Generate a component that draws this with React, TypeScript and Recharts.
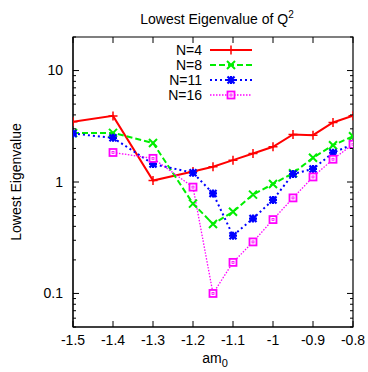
import { LineChart, Line, XAxis, YAxis, Legend, ReferenceArea } from "recharts";

const FONT = '"Liberation Sans", Arial, Helvetica, sans-serif';

// bare mass values on the x axis
const amValues = [-1.5, -1.4, -1.3, -1.2, -1.15, -1.1, -1.05, -1.0, -0.95, -0.9, -0.85, -0.8];

// lowest eigenvalue of Q^2 per lattice size
const n4 = [3.47, 3.92, 1.03, 1.24, 1.37, 1.57, 1.8, 2.07, 2.67, 2.63, 3.42, 3.93];
const n8 = [2.75, 2.76, 2.24, 0.64, 0.42, 0.54, 0.77, 0.96, 1.2, 1.65, 2.14, 2.57];
const n11 = [2.72, 2.49, 1.45, 1.21, 0.79, 0.33, 0.47, 0.69, 1.18, 1.31, 1.83, 2.18];
const n16 = [null, 1.84, 1.63, 0.9, 0.1, 0.19, 0.29, 0.46, 0.72, 1.11, 1.6, 2.18];

const xDomain = [-1.5, -0.8];
const yDomain = [0.05, 20];
const xTicks = [-1.5, -1.4, -1.3, -1.2, -1.1, -1, -0.9, -0.8];
const yTicks = [
  0.05, 0.06, 0.07, 0.08, 0.09, 0.1, 0.2, 0.3, 0.4, 0.5, 0.6, 0.7, 0.8, 0.9,
  1, 2, 3, 4, 5, 6, 7, 8, 9, 10, 20,
];
const yMajor = [0.1, 1, 10];

const series = [
  { key: "n4", name: "N=4", color: "#ff0000", dash: undefined, width: 2, marker: "plus" },
  { key: "n8", name: "N=8", color: "#00ee00", dash: "6 3", width: 2, marker: "cross" },
  { key: "n11", name: "N=11", color: "#0000ff", dash: "2 3", width: 2, marker: "star" },
  { key: "n16", name: "N=16", color: "#ff00ff", dash: "1.5 1.5", width: 1.3, marker: "square" },
];

const data = amValues.map((am, i) => ({
  am,
  n4: n4[i],
  n8: n8[i],
  n11: n11[i],
  n16: n16[i],
}));

// chart frame
const W = 368;
const H = 372;
const M = { top: 37, right: 15, bottom: 0, left: 0 };
const Y_AXIS_W = 73;
const X_AXIS_H = 45;
const PLOT = {
  left: M.left + Y_AXIS_W,
  right: W - M.right,
  top: M.top,
  bottom: H - M.bottom - X_AXIS_H,
};

const Marker = ({ cx, cy, color, kind }: any) => {
  if (cx == null || cy == null || isNaN(cy)) return <g />;
  if (kind === "plus")
    return <path d={`M${cx - 4.5},${cy}h9M${cx},${cy - 4.5}v9`} stroke={color} strokeWidth={1.5} fill="none" />;
  if (kind === "cross")
    return <path d={`M${cx - 4},${cy - 4}l8,8M${cx - 4},${cy + 4}l8,-8`} stroke={color} strokeWidth={2} fill="none" />;
  if (kind === "star")
    return (
      <path
        d={`M${cx - 4},${cy}h8M${cx},${cy - 4}v8M${cx - 3.5},${cy - 3.5}l7,7M${cx - 3.5},${cy + 3.5}l7,-7`}
        stroke={color}
        strokeWidth={2.2}
        fill="none"
      />
    );
  return (
    <g>
      <rect x={cx - 3.5} y={cy - 3.5} width={7} height={7} stroke={color} strokeWidth={1.8} fill="#fff" />
      <rect x={cx - 1} y={cy - 1} width={2} height={2} stroke={color} strokeWidth={0.8} fill="none" />
    </g>
  );
};

// gnuplot style: ticks point inwards, mirrored on the opposite border
const BottomTick = ({ x, payload }: any) => (
  <g>
    <line x1={x} x2={x} y1={PLOT.bottom} y2={PLOT.bottom - 6} stroke="#000" />
    <line x1={x} x2={x} y1={PLOT.top} y2={PLOT.top + 6} stroke="#000" />
    <text x={x} y={PLOT.bottom + 18} textAnchor="middle" fontSize={14} fontFamily={FONT} fill="#000">
      {payload.value}
    </text>
  </g>
);

const LeftTick = ({ y, payload }: any) => {
  const major = yMajor.includes(payload.value);
  const len = major ? 6 : 3;
  return (
    <g>
      <line x1={PLOT.left} x2={PLOT.left + len} y1={y} y2={y} stroke="#000" />
      <line x1={PLOT.right} x2={PLOT.right - len} y1={y} y2={y} stroke="#000" />
      {major && (
        <text x={PLOT.left - 10} y={y} dy="0.35em" textAnchor="end" fontSize={14} fontFamily={FONT} fill="#000">
          {payload.value}
        </text>
      )}
    </g>
  );
};

const LegendBox = () => (
  <svg width={120} height={62}>
    {series.map((s, i) => {
      const y = 8 + i * 15;
      return (
        <g key={s.key}>
          <text x={52} y={y} dy="0.35em" textAnchor="end" fontSize={14} fontFamily={FONT} fill="#000">
            {s.name}
          </text>
          <line x1={60} x2={102} y1={y} y2={y} stroke={s.color} strokeWidth={s.width} strokeDasharray={s.dash} />
          <Marker cx={81} cy={y} color={s.color} kind={s.marker} />
        </g>
      );
    })}
  </svg>
);

export default function App() {
  return (
    <div style={{ position: "absolute", left: 0, top: 0, width: W, height: H, background: "#fff" }}>
      <LineChart width={W} height={H} data={data} margin={M} style={{ fontFamily: FONT }}>
        <XAxis
          dataKey="am"
          type="number"
          domain={xDomain}
          ticks={xTicks}
          interval={0}
          allowDataOverflow
          height={X_AXIS_H}
          tickLine={false}
          tick={BottomTick}
          axisLine={{ stroke: "#000" }}
          label={{
            content: ({ viewBox }: any) => (
              <text x={viewBox.x + viewBox.width / 2 + 2} y={PLOT.bottom + 36} textAnchor="middle" fontSize={14} fontFamily={FONT} fill="#000">
                am<tspan dy={4} fontSize={11}>0</tspan>
              </text>
            ),
          }}
        />
        <YAxis
          scale="log"
          type="number"
          domain={yDomain}
          ticks={yTicks}
          interval={0}
          allowDataOverflow
          width={Y_AXIS_W}
          tickLine={false}
          tick={LeftTick}
          axisLine={{ stroke: "#000" }}
          label={{
            content: ({ viewBox }: any) => {
              const cx = 16;
              const cy = viewBox.y + viewBox.height / 2;
              return (
                <text x={cx} y={cy} transform={`rotate(-90 ${cx} ${cy})`} textAnchor="middle" dy="0.35em" fontSize={14} fontFamily={FONT} fill="#000">
                  Lowest Eigenvalue
                </text>
              );
            },
          }}
        />
        {/* full border box, like gnuplot's default frame */}
        <ReferenceArea
          x1={xDomain[0]}
          x2={xDomain[1]}
          y1={yDomain[0]}
          y2={yDomain[1]}
          fill="none"
          fillOpacity={0}
          stroke="#000"
          strokeWidth={1.2}
          ifOverflow="visible"
        />
        <Legend
          layout="horizontal"
          verticalAlign="middle"
          align="center"
          content={() => <LegendBox />}
          wrapperStyle={{ position: "absolute", left: 150, top: 42, width: 120, height: 62 }}
        />
        {series.map((s) => (
          <Line
            key={s.key}
            dataKey={s.key}
            name={s.name}
            type="linear"
            stroke={s.color}
            strokeWidth={s.width}
            strokeDasharray={s.dash}
            isAnimationActive={false}
            connectNulls={false}
            dot={(p: any) => <Marker key={`${s.key}-${p.index}`} cx={p.cx} cy={p.cy} color={s.color} kind={s.marker} />}
            activeDot={false}
          />
        ))}
      </LineChart>
      <svg style={{ position: "absolute", left: 0, top: 0 }} width={W} height={32}>
        <text x={217} y={24} textAnchor="middle" fontSize={14} fontFamily={FONT} fill="#000">
          Lowest Eigenvalue of Q<tspan dy={-6} fontSize={10}>2</tspan>
        </text>
      </svg>
    </div>
  );
}
